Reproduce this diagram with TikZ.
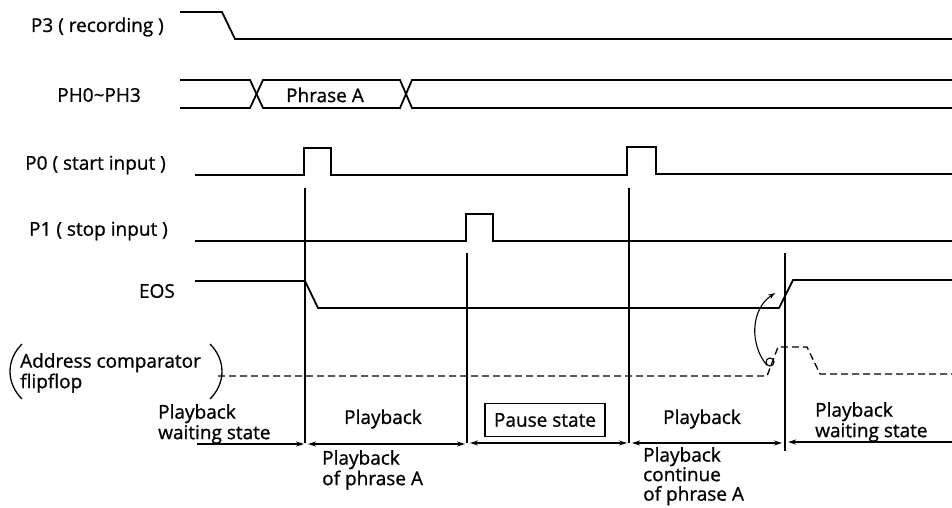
\documentclass[tikz,border=0pt]{standalone}
\usepackage{fontspec}
\setmainfont{Open Sans}[FakeBold=0.9]
\usetikzlibrary{arrows.meta}
\begin{document}
\begin{tikzpicture}[x=1pt,y=-1pt,
  every node/.style={font=\fontsize{19}{20.5}\selectfont, inner sep=0pt},
  wave/.style={line width=1.8pt, line join=miter},
  vline/.style={line width=1.3pt},
  ffline/.style={line width=1.3pt, dash pattern=on 7pt off 4pt},
  lbl/.style={anchor=east},
  multi/.style={align=left, anchor=north west},
  tip/.style={-{Stealth[length=8pt,width=5pt]}, line width=1.2pt},
  dtip/.style={{Stealth[length=8pt,width=5pt]}-{Stealth[length=8pt,width=5pt]}, line width=1.2pt}]
\useasboundingbox (0,0) rectangle (952,507);

% signal labels
\node[lbl] (lp3) at (164,27) {P3 ( recording )};
\node[lbl] (lph) at (141,95) {PH0\textasciitilde PH3};
\node[lbl] (lp0) at (166,165) {P0 ( start input )};
\node[lbl] (lp1) at (168,231) {P1 ( stop input )};
\node[lbl] (leos) at (175,291) {EOS};

% P3
\draw[wave] (180,12) -- (222,12) -- (235,39) -- (952,39);
% PH0~PH3 bus
\draw[wave] (180,80) -- (250,80) -- (263,108) -- (400,108) -- (412,80) -- (952,80);
\draw[wave] (180,108) -- (250,108) -- (263,80) -- (400,80) -- (412,108) -- (952,108);
\node (phA) at (325,95) {Phrase A};
% P0
\draw[wave] (195,175) -- (304,175) -- (304,148) -- (331,148) -- (331,175) -- (627,175)
  -- (627,147) -- (656,147) -- (656,174) -- (952,174);
% P1
\draw[wave] (195,241) -- (466,241) -- (466,214) -- (493,214) -- (493,241) -- (952,241);
% EOS
\draw[wave] (195,281) -- (305,281) -- (318,308) -- (779,308) -- (793,280) -- (952,280);

% flipflop
\draw[ffline] (218,376) -- (767,376) -- (778,347) -- (807,347) -- (820,374) -- (952,374);
\node[draw, circle, line width=1.1pt, minimum size=8pt] (ring) at (770,362) {};
\coordinate (arrend) at (775,293);
\draw[-{Stealth[length=7pt,width=5pt]}, line width=1.1pt] (ring.south west) .. controls (750,345) and (750,310) .. (arrend);

% vertical markers
\coordinate (v1t) at (305,188); \coordinate (v1b) at (305,443);
\coordinate (v2t) at (467,253); \coordinate (v2b) at (467,443);
\coordinate (v3t) at (629,188); \coordinate (v3b) at (629,443);
\coordinate (v4t) at (785,253); \coordinate (v4b) at (785,451);
\draw[vline] (v1t) -- (v1b);
\draw[vline] (v2t) -- (v2b);
\draw[vline] (v3t) -- (v3b);
\draw[vline] (v4t) -- (v4b);

% address comparator label
\node[multi] (addr) at (20,353) {Address comparator\\flipflop};
\draw[line width=1.3pt] (22,344) .. controls (6,360) and (6,383) .. (22,399);
\draw[line width=1.3pt] (210,344) .. controls (226,360) and (226,383) .. (210,399);

% state labels
\node[multi] (w1) at (158,404) {Playback\\waiting state};
\node (pb1) at (383,419) {Playback};
\node[multi] (pa) at (322,450) {Playback\\of phrase A};
\node[draw, line width=1.2pt, minimum width=120pt, minimum height=33pt] (pause) at (545,420) {Pause state};
\node (pb2) at (702,419) {Playback};
\node[multi, font=\fontsize{19}{19.5}\selectfont] (pc) at (643,447) {Playback\\continue\\of phrase A};
\node[multi] (w2) at (815,402) {Playback\\waiting state};

% state arrows
\coordinate (a1s) at (197,444); \coordinate (a1e) at (304,444);
\coordinate (a2s) at (308,444); \coordinate (a2e) at (465,444);
\coordinate (a3s) at (470,443); \coordinate (a3e) at (627,443);
\coordinate (a4s) at (632,443); \coordinate (a4e) at (782,443);
\coordinate (a5s) at (952,442); \coordinate (a5e) at (788,442);
\draw[tip] (a1s) -- (a1e);
\draw[dtip] (a2s) -- (a2e);
\draw[dtip] (a3s) -- (a3e);
\draw[dtip] (a4s) -- (a4e);
\draw[tip] (a5s) -- (a5e);
\end{tikzpicture}
\end{document}
